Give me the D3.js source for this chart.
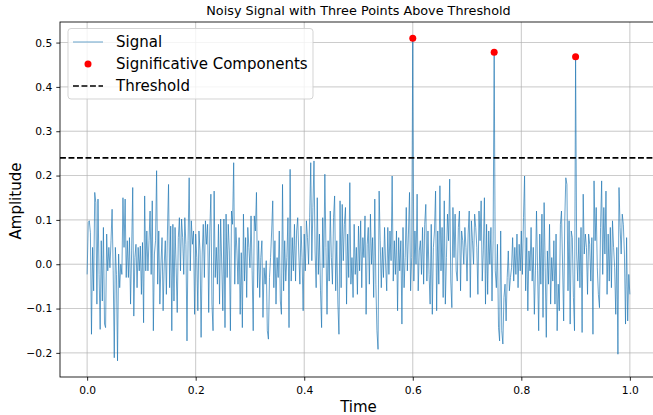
<!DOCTYPE html>
<html>
<head>
<meta charset="utf-8">
<script src="https://cdn.jsdelivr.net/npm/d3@7"></script>
<style>
  html, body { margin: 0; padding: 0; background: #fff; }
  svg { display: block; font-family: "DejaVu Sans", sans-serif; }
</style>
</head>
<body>
<svg id="chart" width="653" height="415"></svg>
<script>
// ---- Data ----
const segA = [
  -.023,.094,.098,.071,-.158,.038,-.060,.162,.139,-.090,
  .147,-.023,-.147,.053,-.083,.083,-.135,-.143,.068,-.015,
  .038,-.008,.053,.124,-.015,-.211,.038,-.023,-.218,.023,
  -.053,0,-.023,.150,.038,.147,-.030,.053,-.030,.060,
  -.090,.030,.173,-.117,.015,.045,-.053,.038,-.015,.041,
  -.068,.049,-.132,.154,-.015,.075,-.015,.053,.120,-.023,
  .143,-.150,.023,.053,.211,-.045,.075,-.090,0,.060,
  -.105,0,.053,-.068,.075,.180,-.053,.086,-.150,.090,
  -.083,.083,-.008,-.109,.060,.105,-.015,.102,.060,-.023,
  .105,.045,-.173,.053,.195,-.015,.098,.045,.075,
  -.113,.068,.015,-.105,.075,.030,-.165,.023,.090,-.030,
  .098,.045,.090,-.109,.075,.158,-.090,-.150,.165,-.030,
  .038,-.045,
  .090,-.090,.102,0,-.105,.102,-.143,.113,-.030,.090,
  .030,-.150,.120,.090,.229,-.045,.083,.030,-.045,.060,
  -.113,.026,-.143,.113,-.038,.060,-.075,.083,.038,-.008,
  .109,-.015,-.150,.109,.075,.162,-.053,.053,-.075,.015,
  .053,
  -.120,-.008,-.045,.008,-.150,-.169,-.030,.015,.075,.143,
  -.053,.053,-.090,.015,-.030,.075,-.083,-.113,.180,-.060,
  .053,-.038,.015,.105,-.143,.214,-.038,.060,-.015,.090,
  -.038,.075,
  .105,.023,-.045,.086,.015,-.105,.068,-.015,.098,.060,
  0,.105,.229,.008,.128,.233,.030,-.053,.150,
  -.023,.068,-.060,-.143,.105,-.008,.203,.038,-.113,.053,
  -.038,.120,.015,-.045,.105,.154,-.060,.053,-.090,-.158,
  .143,-.053,.135,.008,.090,.128,-.090,.068,-.030,.184,
  -.045,.015,-.075,.090,-.023,.038,-.068,.086,-.015,.098,
  -.053,.060,.015,.109,-.113,.045,.083,-.045,.113,0,
  .060,-.075,.147,-.045,-.150,-.192,.165,.053,-.053,.038,
  -.030,.083,0,-.060,.083,-.023,.075,.008,.199,-.038,
  .053,-.023,.075,-.105,.060,-.015,.053,-.135,.083,-.053,
  .015,.128,-.015,.068,.162,-.060,.015
];
const peak1 = 0.510;
const segB = [
  -.038,.075,0,.158,-.060,.030,.053,-.023,
  .083,-.045,.090,.135,-.038,.075,-.023,-.090,.090,-.113,
  .038,.075,.165,-.105,.075,-.045,.177,-.015,.083,
  -.075,.143,-.090,.015,.113,.053,.192,
  -.038,-.098,.128,.015,.113,-.015,-.038,.083,.120,-.060,
  .075,.053,0,.083,.038,-.038,.068,.120,-.075,.098,
  .053,0,.113,.083,.038,-.068,.120,.053,.143,-.038,
  .030,.150,-.090,.090,-.068,.075,0,.083,-.083,.053
];
const peak2 = 0.478;
const segC = [
  -.015,-.053,.045,-.143,-.173,.075,-.150,-.180,-.075,-.045,
  -.128,-.030,.030,-.060,-.030,-.008,.060,-.038,
  .038,-.023,.068,-.053,.045,-.015,.075,-.023,
  .105,.199,-.060,.060,-.105,.030,-.015,.083,-.038,.038,
  -.113,-.015,.120,-.015,-.150,.068,-.045,.113,-.120,
  .139,-.008,-.165,.030,-.045,.090,-.090,.015,-.038,.053,
  -.090,.068,-.150,-.045,-.105,.090,.120,0,-.128,
  .098,.195,.180,-.060,.098,-.135,.075,.060,-.075,-.150
];
const peak3 = 0.468;
const segD = [
  .023,-.038,.060,-.053,.083,-.154,.158,.023,.068,
  .038,-.068,.068,.045,-.038,.060,-.158,.188,.053,
  .128,-.008,-.068,-.098,.083,.188,-.023,.128,.023,.165,
  -.068,.068,-.038,.083,-.053,.098,.038,-.008,-.113,
  .038,-.203,.173,.083,.023,.113,.090,.023,-.135,
  .060,-.128,-.023,-.068
];
const signal = [...segA, peak1, ...segB, peak2, ...segC, peak3, ...segD];
const threshold = 0.24;
const xTicks = [0.0, 0.2, 0.4, 0.6, 0.8, 1.0];
const yTicks = [-0.2, -0.1, 0.0, 0.1, 0.2, 0.3, 0.4, 0.5];
const titleText = "Noisy Signal with Three Points Above Threshold";
const legendLabels = ["Signal", "Significative Components", "Threshold"];

// ---- Build ----
const n = signal.length;
const data = signal.map((v, i) => ({ t: i / (n - 1), v }));
const above = data.filter(d => d.v > threshold);

const svg = d3.select("#chart");
const L = 60, R = 657, T = 22, B = 377;

const x = d3.scaleLinear().domain([-0.05, 1.05]).range([L, R]);
const yMin = d3.min(signal), yMax = d3.max(signal);
const pad = (yMax - yMin) * 0.05;
const y = d3.scaleLinear().domain([yMin - pad, yMax + pad]).range([B, T]);

svg.append("defs").append("clipPath").attr("id", "clip")
  .append("rect").attr("x", L).attr("y", T).attr("width", R - L).attr("height", B - T);

// grid
const grid = svg.append("g");
grid.selectAll(".gx").data(xTicks).join("line")
  .attr("x1", d => x(d)).attr("x2", d => x(d)).attr("y1", T).attr("y2", B)
  .attr("stroke", "#b0b0b0").attr("stroke-width", 0.85).attr("opacity", 0.8);
grid.selectAll(".gy").data(yTicks).join("line")
  .attr("x1", L).attr("x2", R).attr("y1", d => y(d)).attr("y2", d => y(d))
  .attr("stroke", "#b0b0b0").attr("stroke-width", 0.85).attr("opacity", 0.8);

const plot = svg.append("g").attr("clip-path", "url(#clip)");

plot.append("path").datum(data)
  .attr("fill", "none").attr("stroke", "#1f77b4").attr("stroke-width", 0.85)
  .attr("stroke-opacity", 0.8).attr("stroke-linejoin", "round")
  .attr("d", d3.line().x(d => x(d.t)).y(d => y(d.v)));

plot.append("line")
  .attr("x1", L).attr("x2", R).attr("y1", y(threshold)).attr("y2", y(threshold))
  .attr("stroke", "#000").attr("stroke-width", 1.6).attr("stroke-dasharray", "5.9,2.6");

plot.selectAll("circle.pt").data(above).join("circle")
  .attr("cx", d => x(d.t)).attr("cy", d => y(d.v)).attr("r", 3.5).attr("fill", "red");

// axes
const fmt = d => d3.format(".1f")(d).replace("-", "\u2212");
const xAxis = svg.append("g").attr("transform", `translate(0,${B})`)
  .call(d3.axisBottom(x).tickValues(xTicks).tickSize(3.7).tickPadding(5.6).tickFormat(fmt));
const yAxis = svg.append("g").attr("transform", `translate(${L},0)`)
  .call(d3.axisLeft(y).tickValues(yTicks).tickSize(3.7).tickPadding(4).tickFormat(fmt));
[xAxis, yAxis].forEach(a => {
  a.select(".domain").remove();
  a.selectAll("text").attr("font-size", 10.7).attr("fill", "#000").attr("font-family", "DejaVu Sans");
  a.selectAll("line").attr("stroke", "#000").attr("stroke-width", 0.85);
});

// spines
svg.append("rect").attr("x", L).attr("y", T).attr("width", R - L).attr("height", B - T)
  .attr("fill", "none").attr("stroke", "#000").attr("stroke-width", 0.85);

// labels
svg.append("text").attr("x", (L + R) / 2).attr("y", 14.8).attr("text-anchor", "middle")
  .attr("font-size", 12.8).text(titleText);
svg.append("text").attr("x", (L + R) / 2).attr("y", 411.5).attr("text-anchor", "middle")
  .attr("font-size", 15).text("Time");
svg.append("text").attr("transform", `translate(20.5,${(T + B) / 2 + 1.5}) rotate(-90)`)
  .attr("text-anchor", "middle").attr("font-size", 15).text("Amplitude");

// legend
const lg = svg.append("g");
lg.append("rect").attr("x", 68).attr("y", 28.5).attr("width", 245).attr("height", 70.5)
  .attr("rx", 3).attr("fill", "#fff").attr("fill-opacity", 0.8).attr("stroke", "#cccccc").attr("stroke-width", 0.85);
const rows = [42, 64, 86];
lg.append("line").attr("x1", 73).attr("x2", 103).attr("y1", rows[0]).attr("y2", rows[0])
  .attr("stroke", "#1f77b4").attr("stroke-width", 0.85).attr("stroke-opacity", 0.8);
lg.append("circle").attr("cx", 88).attr("cy", rows[1]).attr("r", 3.5).attr("fill", "red");
lg.append("line").attr("x1", 73).attr("x2", 103).attr("y1", rows[2]).attr("y2", rows[2])
  .attr("stroke", "#000").attr("stroke-width", 1.6).attr("stroke-dasharray", "5.9,2.6");
lg.selectAll("text.lt").data(legendLabels).join("text")
  .attr("x", 116).attr("y", (d, i) => rows[i]).attr("dy", "0.36em")
  .attr("font-size", 15).text(d => d);
</script>
</body>
</html>
